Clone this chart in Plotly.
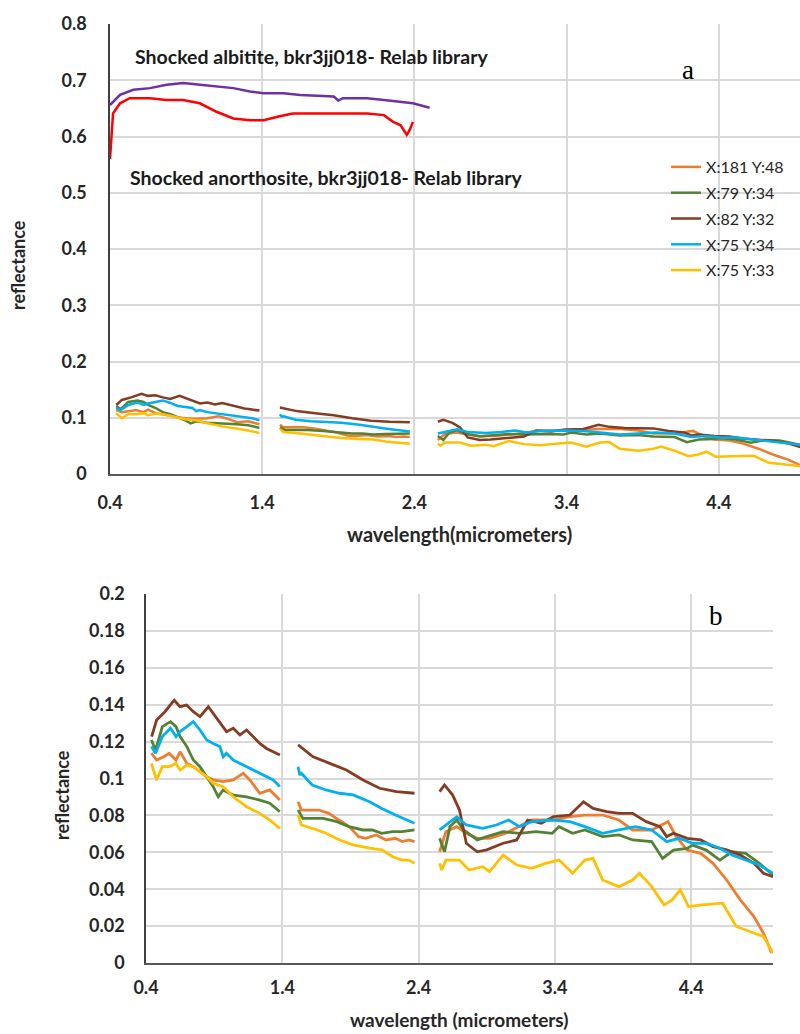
import plotly.graph_objects as go

# ---------------- data ----------------
orange_x = [0.44, 0.478, 0.53, 0.57, 0.62, 0.65, 0.70, 0.747, 0.796, 0.845, 0.893, 0.966, 1.04, 1.113, 1.162, 1.235, 1.308, 1.382, None,
            1.516, 1.54, 1.60, 1.67, 1.74, 1.82, 1.89, 1.96, 2.01, 2.09, 2.16, 2.23, 2.28, 2.33, 2.37, None,
            2.554, 2.60, 2.68, 2.75, 2.83, 2.92, 3.04, 3.14, 3.23, 3.38, 3.51, 3.62, 3.75, 3.87, 3.97, 4.11, 4.23, 4.29, 4.37, 4.47, 4.56, 4.66, 4.76, 4.86, 4.93, 4.99]
orange_y = [0.1137, 0.110, 0.1118, 0.1137, 0.110, 0.1145, 0.1082, 0.1064, 0.1037, 0.101, 0.0992, 0.0983, 0.0992, 0.1028, 0.0992, 0.092, 0.0938, 0.0883, None,
            0.0874, 0.0829, 0.0829, 0.0829, 0.0811, 0.0775, 0.0739, 0.0685, 0.0676, 0.0694, 0.0667, 0.0676, 0.0658, 0.0667, 0.0658, None,
            0.0603, 0.0712, 0.0739, 0.0703, 0.0676, 0.0676, 0.0703, 0.0739, 0.0775, 0.0775, 0.0793, 0.0802, 0.0802, 0.0775, 0.0721, 0.0721, 0.0766, 0.0685, 0.0612, 0.0594, 0.054, 0.045, 0.0342, 0.0252, 0.0162, 0.0054]

green_x = [0.44, 0.47, 0.52, 0.58, 0.62, 0.65, 0.70, 0.747, 0.796, 0.845, 0.893, 0.93, 0.966, 1.04, 1.138, 1.235, 1.308, 1.382, None,
           1.516, 1.55, 1.62, 1.70, 1.80, 1.89, 1.99, 2.06, 2.13, 2.21, 2.28, 2.37, None,
           2.554, 2.59, 2.63, 2.68, 2.73, 2.83, 2.90, 3.02, 3.14, 3.26, 3.38, 3.43, 3.53, 3.62, 3.75, 3.87, 3.97, 4.11, 4.19, 4.27, 4.37, 4.41, 4.51, 4.61, 4.70, 4.80, 4.90, 5.0]
green_y = [0.1209, 0.1154, 0.1281, 0.1308, 0.1281, 0.1227, 0.1173, 0.110, 0.1064, 0.101, 0.0956, 0.0901, 0.0938, 0.091, 0.0901, 0.0883, 0.0866, 0.082, None,
           0.0829, 0.0784, 0.0784, 0.0784, 0.0766, 0.0739, 0.0721, 0.0721, 0.0703, 0.0712, 0.0712, 0.0721, None,
           0.0676, 0.0603, 0.0739, 0.0775, 0.0721, 0.0667, 0.0685, 0.0712, 0.0703, 0.0712, 0.0703, 0.0739, 0.0703, 0.0721, 0.0685, 0.0694, 0.0667, 0.0658, 0.0567, 0.0612, 0.0621, 0.0639, 0.0612, 0.0558, 0.0603, 0.0594, 0.054, 0.0477]

brown_x = [0.4415, 0.478, 0.539, 0.607, 0.649, 0.698, 0.747, 0.796, 0.857, 0.893, 0.942, 0.991, 1.04, 1.089, 1.138, 1.186, 1.235, 1.284, 1.333, 1.382, None,
           1.516, 1.626, 1.748, 1.87, 1.992, 2.114, 2.237, 2.37, None,
           2.554, 2.59, 2.65, 2.70, 2.75, 2.83, 2.90, 3.02, 3.12, 3.20, 3.30, 3.39, 3.51, 3.61, 3.68, 3.78, 3.87, 3.97, 4.07, 4.17, 4.22, 4.27, 4.37, 4.47, 4.56, 4.66, 4.76, 4.86, 4.93, 5.0]
brown_y = [0.1227, 0.1317, 0.1362, 0.1425, 0.1389, 0.1398, 0.1362, 0.1335, 0.1389, 0.1353, 0.1299, 0.1254, 0.1272, 0.1236, 0.1263, 0.1227, 0.119, 0.1163, 0.1145, 0.1127, None,
           0.1182, 0.1118, 0.1082, 0.1046, 0.0992, 0.0947, 0.0929, 0.092, None,
           0.0929, 0.0965, 0.091, 0.0829, 0.0649, 0.0603, 0.0613, 0.0649, 0.0667, 0.0775, 0.0757, 0.0793, 0.0802, 0.0874, 0.0838, 0.082, 0.0811, 0.0811, 0.0766, 0.0739, 0.0685, 0.0703, 0.0676, 0.0667, 0.0631, 0.0613, 0.0585, 0.054, 0.0486, 0.0468]

blue_x = [0.44, 0.47, 0.52, 0.58, 0.62, 0.65, 0.70, 0.747, 0.796, 0.845, 0.893, 0.942, 0.966, 0.99, 1.04, 1.138, 1.235, 1.333, 1.382, None,
          1.516, 1.528, 1.54, 1.62, 1.72, 1.82, 1.92, 2.04, 2.13, 2.23, 2.37, None,
          2.554, 2.63, 2.68, 2.75, 2.87, 2.97, 3.06, 3.14, 3.23, 3.38, 3.51, 3.62, 3.75, 3.87, 3.99, 4.11, 4.22, 4.31, 4.41, 4.51, 4.61, 4.70, 4.80, 4.90, 5.0]
blue_y = [0.1173, 0.1137, 0.1227, 0.1272, 0.1227, 0.1254, 0.1281, 0.1308, 0.1263, 0.1209, 0.119, 0.1173, 0.1118, 0.1137, 0.11, 0.1064, 0.1028, 0.0992, 0.0956, None,
          0.1064, 0.1019, 0.1028, 0.0965, 0.0938, 0.092, 0.0911, 0.0874, 0.0838, 0.0802, 0.0757, None,
          0.0721, 0.0766, 0.0793, 0.0748, 0.073, 0.0748, 0.0775, 0.0739, 0.0766, 0.0775, 0.0766, 0.0739, 0.0703, 0.0721, 0.0739, 0.0721, 0.0658, 0.0676, 0.0649, 0.0649, 0.0622, 0.0585, 0.0558, 0.0531, 0.0486]

yellow_x = [0.44, 0.478, 0.52, 0.57, 0.62, 0.65, 0.70, 0.747, 0.796, 0.845, 0.893, 0.966, 1.04, 1.138, 1.235, 1.308, 1.382, None,
            1.516, 1.54, 1.62, 1.72, 1.82, 1.92, 2.04, 2.13, 2.21, 2.28, 2.33, 2.37, None,
            2.554, 2.57, 2.60, 2.70, 2.77, 2.87, 2.92, 3.02, 3.12, 3.23, 3.33, 3.43, 3.53, 3.62, 3.68, 3.75, 3.87, 3.97, 4.02, 4.11, 4.20, 4.26, 4.32, 4.38, 4.48, 4.63, 4.73, 4.83, 4.93, 5.0]
yellow_y = [0.1082, 0.0992, 0.1064, 0.1064, 0.1082, 0.1046, 0.1073, 0.1064, 0.1037, 0.101, 0.0974, 0.0956, 0.0901, 0.0847, 0.0811, 0.0775, 0.073, None,
            0.0802, 0.0748, 0.073, 0.0703, 0.0667, 0.064, 0.0622, 0.0613, 0.0576, 0.0558, 0.0558, 0.054, None,
            0.054, 0.0504, 0.0558, 0.0558, 0.0504, 0.0522, 0.0495, 0.0585, 0.0531, 0.0513, 0.054, 0.0558, 0.0486, 0.0558, 0.0567, 0.045, 0.0414, 0.045, 0.0486, 0.0414, 0.0315, 0.0342, 0.0396, 0.0306, 0.0315, 0.0324, 0.0198, 0.0171, 0.0144, 0.0054]

albitite_x = [0.40, 0.466, 0.553, 0.663, 0.772, 0.882, 0.991, 1.10, 1.21, 1.32, 1.41, 1.54, 1.65, 1.87, 1.90, 1.93, 2.09, 2.20, 2.31, 2.39, 2.50]
albitite_y = [0.656, 0.674, 0.683, 0.686, 0.692, 0.695, 0.692, 0.689, 0.686, 0.680, 0.677, 0.677, 0.674, 0.671, 0.664, 0.668, 0.668, 0.665, 0.662, 0.659, 0.651]

anorthosite_x = [0.40, 0.42, 0.466, 0.53, 0.663, 0.77, 0.88, 0.99, 1.10, 1.21, 1.32, 1.41, 1.50, 1.60, 1.87, 2.09, 2.20, 2.26, 2.31, 2.35, 2.37, 2.39]
anorthosite_y = [0.56, 0.641, 0.659, 0.668, 0.668, 0.665, 0.665, 0.659, 0.644, 0.632, 0.629, 0.629, 0.635, 0.641, 0.641, 0.641, 0.638, 0.626, 0.620, 0.603, 0.612, 0.626]

series_names = ["X:181 Y:48", "X:79 Y:34", "X:82 Y:32", "X:75 Y:34", "X:75 Y:33"]
series_x = [orange_x, green_x, brown_x, blue_x, yellow_x]
series_y = [orange_y, green_y, brown_y, blue_y, yellow_y]
series_colors = ["#ED7D31", "#548235", "#843C22", "#00B0F0", "#FFC000"]

x_tickvals = [0.4, 1.4, 2.4, 3.4, 4.4]
x_ticktext = ["0.4", "1.4", "2.4", "3.4", "4.4"]
top_y_tickvals = [0, 0.1, 0.2, 0.3, 0.4, 0.5, 0.6, 0.7, 0.8]
top_y_ticktext = ["0", "0.1", "0.2", "0.3", "0.4", "0.5", "0.6", "0.7", "0.8"]
bot_y_tickvals = [0, 0.02, 0.04, 0.06, 0.08, 0.1, 0.12, 0.14, 0.16, 0.18, 0.2]
bot_y_ticktext = ["0", "0.02", "0.04", "0.06", "0.08", "0.1", "0.12", "0.14", "0.16", "0.18", "0.2"]

# ---------------- figure ----------------
W, H = 800, 1034
FONT = "Lato"
fig = go.Figure()

fig.add_trace(go.Scatter(x=albitite_x, y=albitite_y, mode="lines", line=dict(color="#7030A0", width=2.5),
                         showlegend=False, xaxis="x", yaxis="y"))
fig.add_trace(go.Scatter(x=anorthosite_x, y=anorthosite_y, mode="lines", line=dict(color="#FF0000", width=2.5),
                         showlegend=False, xaxis="x", yaxis="y"))

for i, (nm, xs, ys, c) in enumerate(zip(series_names, series_x, series_y, series_colors)):
    fig.add_trace(go.Scatter(x=xs, y=ys, mode="lines", name=nm, line=dict(color=c, width=2.5),
                             legendgroup=f"g{i}", showlegend=True, xaxis="x", yaxis="y"))
for i, (nm, xs, ys, c) in enumerate(zip(series_names, series_x, series_y, series_colors)):
    fig.add_trace(go.Scatter(x=xs, y=ys, mode="lines", name=nm, line=dict(color=c, width=2.8),
                             legendgroup=f"g{i}", showlegend=False, xaxis="x2", yaxis="y2"))

grid = "#D9D9D9"
tickfont = dict(family=FONT, size=18, color="#262626", weight="bold")

def py(px):
    return 1 - px / H

fig.update_layout(
    width=W, height=H,
    margin=dict(l=0, r=0, t=0, b=0),
    paper_bgcolor="white", plot_bgcolor="white",
    xaxis=dict(domain=[110 / W, 1.0], range=[0.4, 0.4 + 690 / 152.2], tickvals=x_tickvals, ticktext=x_ticktext,
               showgrid=True, gridcolor=grid, gridwidth=1.5, zeroline=False, showline=True, linecolor="#595959",
               linewidth=2, ticks="", tickfont=tickfont, ticklabelstandoff=11, automargin=False, anchor="y"),
    yaxis=dict(domain=[py(474), py(24)], range=[0, 0.8], tickvals=top_y_tickvals, ticktext=top_y_ticktext,
               showgrid=True, gridcolor=grid, gridwidth=1.5, zeroline=False, showline=True, linecolor="#404040",
               linewidth=1.5, ticks="", tickfont=tickfont, ticklabelstandoff=18, automargin=False, anchor="x"),
    xaxis2=dict(domain=[146 / W, 773 / W], range=[0.4, 5.0], tickvals=x_tickvals, ticktext=x_ticktext,
                showgrid=True, gridcolor=grid, gridwidth=1.5, zeroline=False, showline=True, linecolor="#595959",
                linewidth=2, ticks="", tickfont=tickfont, ticklabelstandoff=7, automargin=False, anchor="y2"),
    yaxis2=dict(domain=[py(963), py(594)], range=[0, 0.2], tickvals=bot_y_tickvals, ticktext=bot_y_ticktext,
                showgrid=True, gridcolor=grid, gridwidth=1.5, zeroline=False, showline=True, linecolor="#404040",
                linewidth=1.5, ticks="", tickfont=tickfont, ticklabelstandoff=16, automargin=False, anchor="x2"),
    legend=dict(x=666 / W, y=py(150), xanchor="left", yanchor="top", bgcolor="rgba(0,0,0,0)",
                font=dict(family=FONT, size=16, color="#262626"), tracegroupgap=2, itemwidth=30),
    showlegend=True,
)

# white boxes behind panel letters
fig.add_shape(type="rect", xref="paper", yref="paper", x0=663 / W, x1=730 / W, y0=py(107), y1=py(38),
              fillcolor="white", line=dict(width=0), layer="between")
fig.add_shape(type="rect", xref="paper", yref="paper", x0=688 / W, x1=757 / W, y0=py(655), y1=py(585),
              fillcolor="white", line=dict(width=0), layer="between")

annots = [
    dict(text="a", x=688 / W, y=py(70), font=dict(family="Liberation Serif", size=27, color="black")),
    dict(text="b", x=716 / W, y=py(616), font=dict(family="Liberation Serif", size=27, color="black")),
    dict(text="Shocked albitite, bkr3jj018- Relab library", x=133 / W, y=py(57), xanchor="left",
         font=dict(family=FONT, size=19.5, color="#1a1a1a", weight="bold")),
    dict(text="Shocked anorthosite, bkr3jj018- Relab library", x=128 / W, y=py(178), xanchor="left",
         font=dict(family=FONT, size=19.5, color="#1a1a1a", weight="bold")),
    dict(text="reflectance", x=18 / W, y=py(265), textangle=-90,
         font=dict(family=FONT, size=18, color="#262626", weight="bold")),
    dict(text="wavelength(micrometers)", x=460 / W, y=py(534),
         font=dict(family=FONT, size=20, color="#262626", weight="bold")),
    dict(text="reflectance", x=62 / W, y=py(795), textangle=-90,
         font=dict(family=FONT, size=18, color="#262626", weight="bold")),
    dict(text="wavelength (micrometers)", x=460 / W, y=py(1033), yanchor="bottom",
         font=dict(family=FONT, size=19, color="#262626", weight="bold")),
]
for a in annots:
    a.setdefault("xanchor", "center")
    a.setdefault("yanchor", "middle")
    fig.add_annotation(xref="paper", yref="paper", showarrow=False, **a)

# remove the browser's default 8px body margin so the figure fills the window exactly
fig.write_html("out.html", config={"displayModeBar": False},
               post_script="document.body.style.margin='0';document.body.style.overflow='hidden';")
